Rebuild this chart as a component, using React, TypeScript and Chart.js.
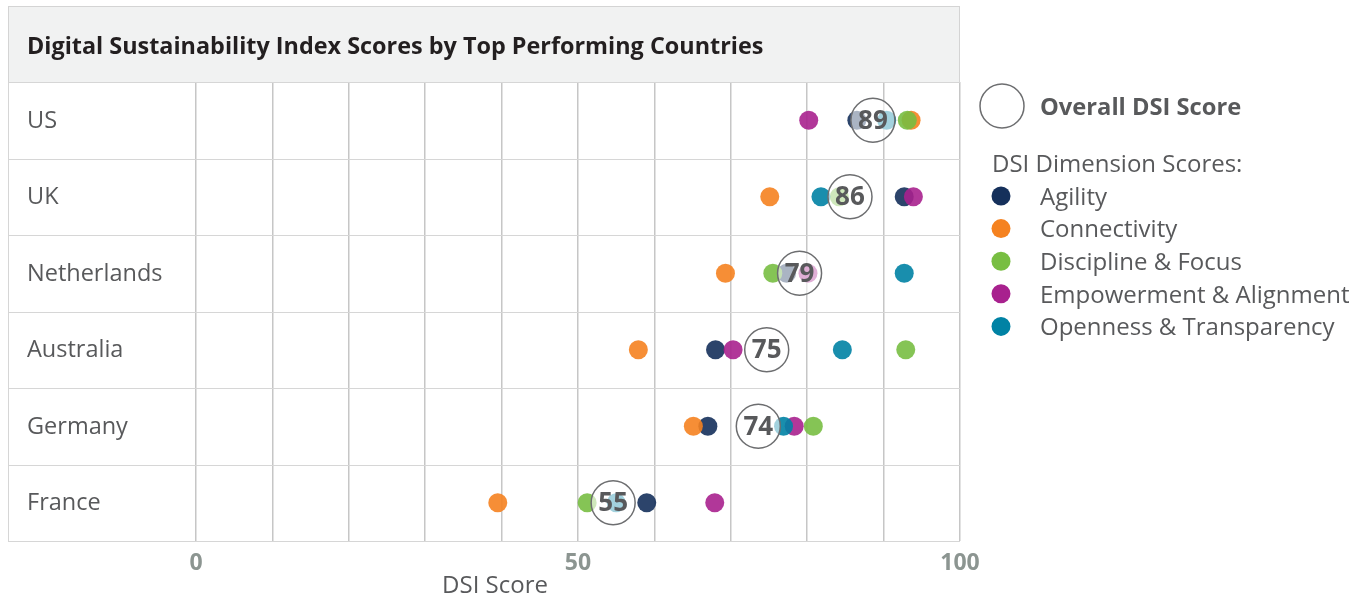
import React, { useEffect, useRef } from 'react';
import { Chart, registerables } from 'chart.js';
Chart.register(...registerables);

const countries = ['US', 'UK', 'Netherlands', 'Australia', 'Germany', 'France'];
const overallScores = [88.6, 85.6, 79.0, 74.7, 73.6, 54.6];
const agility = [86.5, 92.7, 77.3, 68.0, 67.0, 59.0];
const connectivity = [93.6, 75.1, 69.3, 57.9, 65.1, 39.5];
const discipline = [93.1, 84.2, 75.5, 92.9, 80.8, 51.2];
const empowerment = [80.2, 93.9, 80.1, 70.3, 78.3, 67.9];
const openness = [90.4, 81.8, 92.7, 84.6, 76.9, 55.0];
const xTickLabels = [0, 50, 100];

const seriesNames = ['Agility', 'Connectivity', 'Discipline & Focus', 'Empowerment & Alignment', 'Openness & Transparency'];
const seriesValues = [agility, connectivity, discipline, empowerment, openness];
const seriesColors = ['#15305b', '#f58220', '#78be42', '#a8218e', '#0082a4'];

const TITLE = 'Digital Sustainability Index Scores by Top Performing Countries';
const FONT = '"Open Sans", sans-serif';
const TEXT = '#58595b';

function toPoints(vals: number[]) {
  return vals.map((v, i) => ({ x: v, y: i }));
}

function hexA(hex: string, a: number) {
  const n = parseInt(hex.slice(1), 16);
  return `rgba(${(n >> 16) & 255},${(n >> 8) & 255},${n & 255},${a})`;
}

export default function App() {
  const ref = useRef<HTMLCanvasElement>(null);
  useEffect(() => {
    const overlay = {
      id: 'overlay',
      beforeDatasetsDraw(chart: any) {
        const ctx = chart.ctx;
        const ys = chart.scales.y;
        const area = chart.chartArea;
        const L = 8;
        ctx.save();
        // header
        ctx.fillStyle = '#f1f2f2';
        ctx.fillRect(L, 6, area.right - L, area.top - 6);
        ctx.strokeStyle = '#d4d4d4';
        ctx.lineWidth = 1;
        ctx.strokeRect(L + 0.5, 6.5, area.right - L - 1, area.top - 6);
        ctx.fillStyle = '#231f20';
        ctx.font = `bold 23.4px ${FONT}`;
        ctx.textBaseline = 'middle';
        ctx.textAlign = 'left';
        ctx.fillText(TITLE, 27, 47);
        // rows
        ctx.strokeStyle = '#d6d6d6';
        ctx.lineWidth = 1;
        for (let k = 0; k <= countries.length; k++) {
          const y = Math.round(ys.getPixelForValue(k - 0.5)) + 0.5;
          ctx.beginPath();
          ctx.moveTo(L, y);
          ctx.lineTo(area.right, y);
          ctx.stroke();
        }
        ctx.beginPath();
        ctx.moveTo(L + 0.5, area.top);
        ctx.lineTo(L + 0.5, area.bottom);
        ctx.stroke();
        // category labels
        ctx.fillStyle = TEXT;
        ctx.font = `23.5px ${FONT}`;
        countries.forEach((c, i) => {
          ctx.fillText(c, 27, ys.getPixelForValue(i) + 1);
        });
        // axis title
        ctx.textAlign = 'center';
        ctx.font = `24px ${FONT}`;
        ctx.fillText('DSI Score', 495, 586);
        // legend
        ctx.textAlign = 'left';
        ctx.beginPath();
        ctx.arc(1002, 106, 22, 0, Math.PI * 2);
        ctx.strokeStyle = '#6d6e70';
        ctx.lineWidth = 1.5;
        ctx.stroke();
        ctx.font = `bold 23.7px ${FONT}`;
        ctx.fillText('Overall DSI Score', 1040, 108);
        ctx.font = `24px ${FONT}`;
        ctx.fillText('DSI Dimension Scores:', 992, 165);
        seriesNames.forEach((n, i) => {
          const y = 196 + i * 32.6;
          ctx.beginPath();
          ctx.arc(1001, y, 9.5, 0, Math.PI * 2);
          ctx.fillStyle = seriesColors[i];
          ctx.fill();
          ctx.fillStyle = TEXT;
          ctx.fillText(n, 1040, y + 2);
        });
        ctx.restore();
      },
      afterDatasetsDraw(chart: any) {
        const ctx = chart.ctx;
        const meta = chart.getDatasetMeta(0);
        ctx.save();
        ctx.fillStyle = TEXT;
        ctx.font = `bold 26px ${FONT}`;
        ctx.textAlign = 'center';
        ctx.textBaseline = 'middle';
        meta.data.forEach((el: any, i: number) => {
          ctx.fillText(String(Math.round(overallScores[i])), el.x, el.y + 1);
        });
        ctx.restore();
      },
    };

    const datasets: any[] = [
      {
        label: 'Overall DSI Score',
        data: toPoints(overallScores),
        pointRadius: 22,
        pointHoverRadius: 22,
        backgroundColor: 'rgba(255,255,255,0.6)',
        borderColor: '#6d6e70',
        borderWidth: 1.5,
        order: 0,
      },
      ...seriesNames.map((n, i) => ({
        label: n,
        data: toPoints(seriesValues[i]),
        pointRadius: 9.5,
        pointHoverRadius: 9.5,
        backgroundColor: hexA(seriesColors[i], 0.9),
        borderWidth: 0,
        order: 5 - i,
      })),
    ];

    const chart = new Chart(ref.current as HTMLCanvasElement, {
      type: 'scatter',
      data: { datasets },
      options: {
        animation: false,
        responsive: true,
        maintainAspectRatio: false,
        layout: { padding: { left: 196, right: 407, top: 82, bottom: 10 } },
        plugins: { legend: { display: false }, tooltip: { enabled: false } },
        scales: {
          x: {
            type: 'linear',
            min: 0,
            max: 100,
            border: { display: false },
            grid: { color: '#c6c6c6', lineWidth: 1.5, drawTicks: false },
            ticks: {
              stepSize: 10,
              autoSkip: false,
              maxRotation: 0,
              padding: 11,
              color: '#8c9591',
              font: { family: FONT, size: 23, weight: 'bold', lineHeight: 1 },
              callback: (v: any) => (xTickLabels.includes(Number(v)) ? String(v) : ''),
            },
          },
          y: { type: 'linear', min: -0.5, max: 5.5, reverse: true, display: false },
        },
      },
      plugins: [overlay],
    });
    return () => chart.destroy();
  }, []);
  return (
    <div style={{ position: 'fixed', left: 0, top: 0, width: 1367, height: 596, background: '#fff' }}>
      <canvas ref={ref} />
    </div>
  );
}
